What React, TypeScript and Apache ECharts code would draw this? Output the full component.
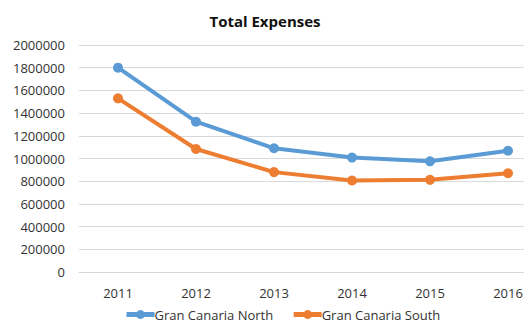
import React, { useEffect, useRef } from "react";
import * as echarts from "echarts";

const years = ["2011", "2012", "2013", "2014", "2015", "2016"];
const north = [1800000, 1324000, 1090000, 1008000, 975000, 1068000];
const south = [1530000, 1084000, 880000, 806000, 812000, 870000];
const seriesNames = ["Gran Canaria North", "Gran Canaria South"];
const colors = ["#5B9BD5", "#ED7D31"];

export default function App() {
  const ref = useRef<HTMLDivElement>(null);
  useEffect(() => {
    document.body.style.margin = "0";
    const chart = echarts.init(ref.current!, null, { renderer: "svg" });
    const font = "'Open Sans', 'Noto Sans', sans-serif";
    chart.setOption({
      animation: false,
      textStyle: { fontFamily: font },
      title: {
        text: "Total Expenses",
        left: 260,
        textAlign: "center",
        top: 8,
        textStyle: { fontSize: 15, fontWeight: "bold", color: "#111", fontFamily: font },
      },
      legend: {
        bottom: -1,
        left: 119,
        itemWidth: 28,
        itemHeight: 11,
        itemGap: 18,
        lineStyle: { width: 5 },
        textStyle: { fontSize: 13, color: "#333", fontFamily: font, padding: [0, 0, 0, -5] },
        data: seriesNames,
      },
      grid: { left: 79, top: 45, width: 468, height: 227, outerBoundsMode: "none" },
      xAxis: {
        type: "category",
        data: years,
        boundaryGap: true,
        axisLine: { lineStyle: { color: "#d9d9d9" } },
        axisTick: { show: false },
        axisLabel: { fontSize: 13, color: "#333", margin: 14, fontFamily: font },
      },
      yAxis: {
        type: "value",
        min: 0,
        max: 2000000,
        interval: 200000,
        axisLine: { show: false },
        axisTick: { show: false },
        splitLine: { lineStyle: { color: "#d9d9d9" } },
        axisLabel: {
          fontSize: 13,
          color: "#333",
          margin: 14,
          fontFamily: font,
          formatter: (v: number) => String(v),
        },
      },
      series: [
        {
          name: seriesNames[0],
          type: "line",
          data: north,
          color: colors[0],
          symbol: "circle",
          symbolSize: 10,
          lineStyle: { width: 4 },
        },
        {
          name: seriesNames[1],
          type: "line",
          data: south,
          color: colors[1],
          symbol: "circle",
          symbolSize: 10,
          lineStyle: { width: 4 },
        },
      ],
    });
    return () => chart.dispose();
  }, []);
  return <div ref={ref} style={{ width: 524, height: 325 }} />;
}
